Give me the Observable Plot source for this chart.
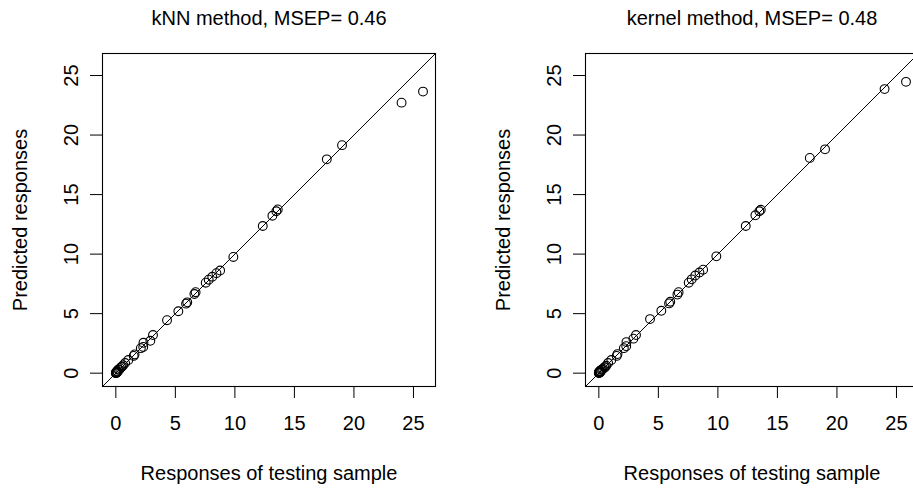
<!DOCTYPE html>
<html><head><meta charset="utf-8">
<script src="https://cdn.jsdelivr.net/npm/d3@7"></script>
<script src="https://cdn.jsdelivr.net/npm/@observablehq/plot@0.6"></script>
<style>
html,body{margin:0;padding:0;background:#fff;overflow:hidden;}
#wrap{width:913px;height:488px;overflow:hidden;position:relative;background:#fff}
#wrap svg{position:absolute;top:0}
</style></head><body><div id="wrap"></div>
<script>
// Responses of testing sample (shared by both panels)
const observed = [25.8, 24.0, 19.0, 17.72, 13.6, 13.48, 13.15, 12.34, 9.87, 8.76, 8.45, 8.1, 7.8, 7.55, 6.7, 6.6, 6.0, 5.9, 5.25, 4.3, 3.12, 2.9, 2.32, 2.3, 2.1, 1.57, 1.5, 1.05, 0.78, 0.52, 0.28, 0.15, 0.08, 0.03, 0.0, 0.0, 0.02, 0.06, 0.12, 0.2, 0.35, 0.45, 0.62];
// Predicted responses, kNN method
const predictedKNN = [23.65, 22.72, 19.15, 17.96, 13.75, 13.6, 13.22, 12.36, 9.76, 8.62, 8.4, 8.1, 7.85, 7.6, 6.8, 6.65, 5.95, 5.84, 5.2, 4.45, 3.2, 2.72, 2.55, 2.2, 2.1, 1.57, 1.45, 1.1, 0.85, 0.55, 0.28, 0.12, 0.05, 0.02, 0.0, 0.04, 0.08, 0.1, 0.18, 0.3, 0.42, 0.5, 0.66];
// Predicted responses, kernel method
const predictedKernel = [24.47, 23.86, 18.8, 18.08, 13.72, 13.6, 13.26, 12.36, 9.81, 8.69, 8.45, 8.2, 7.88, 7.6, 6.8, 6.6, 6.0, 5.86, 5.24, 4.54, 3.2, 2.9, 2.61, 2.27, 2.1, 1.6, 1.45, 1.1, 0.85, 0.5, 0.3, 0.12, 0.05, 0.02, 0.02, 0.05, 0.1, 0.14, 0.2, 0.28, 0.38, 0.48, 0.62];

const titles = ["kNN method, MSEP= 0.46", "kernel method, MSEP= 0.48"];
const tickValues = [0, 5, 10, 15, 20, 25];
const xLabel = "Responses of testing sample";
const yLabel = "Predicted responses";
const axisDomain = [-1.12, 26.85];

function panel(pred, title) {
  const data = observed.map((x, i) => ({x, y: pred[i]}));
  const diag = axisDomain.map(v => ({v}));
  return Plot.plot({
    width: 483, height: 488,
    marginLeft: 102, marginRight: 48, marginTop: 53, marginBottom: 102,
    style: {fontFamily: "'Liberation Sans', Arial, Helvetica, sans-serif", fontSize: "20px", background: "white", color: "black"},
    x: {domain: axisDomain},
    y: {domain: axisDomain},
    marks: [
      Plot.frame({stroke: "black", strokeWidth: 1.1}),
      Plot.axisX({ticks: tickValues, tickSize: 12, tickPadding: 17, fontSize: 20,
        label: xLabel, labelAnchor: "center", labelArrow: "none", labelOffset: 93}),
      Plot.axisY({ticks: tickValues, tickSize: 12, tickPadding: 13, tickRotate: -90, fontSize: 20,
        label: yLabel, labelAnchor: "center", labelArrow: "none", labelOffset: 90}),
      Plot.line(diag, {x: "v", y: "v", stroke: "black", strokeWidth: 1}),
      Plot.dot(data, {x: "x", y: "y", r: 4.4, stroke: "black", fill: "none", strokeWidth: 1.1}),
      Plot.text([title], {frameAnchor: "top", lineAnchor: "middle", dy: -35, fontSize: 20, fill: "black"})
    ]
  });
}

const wrap = document.getElementById("wrap");
const p1 = panel(predictedKNN, titles[0]);
const p2 = panel(predictedKernel, titles[1]);
p1.style.left = "0px";
p2.style.left = "483px";
wrap.appendChild(p1);
wrap.appendChild(p2);
</script>
</body></html>
